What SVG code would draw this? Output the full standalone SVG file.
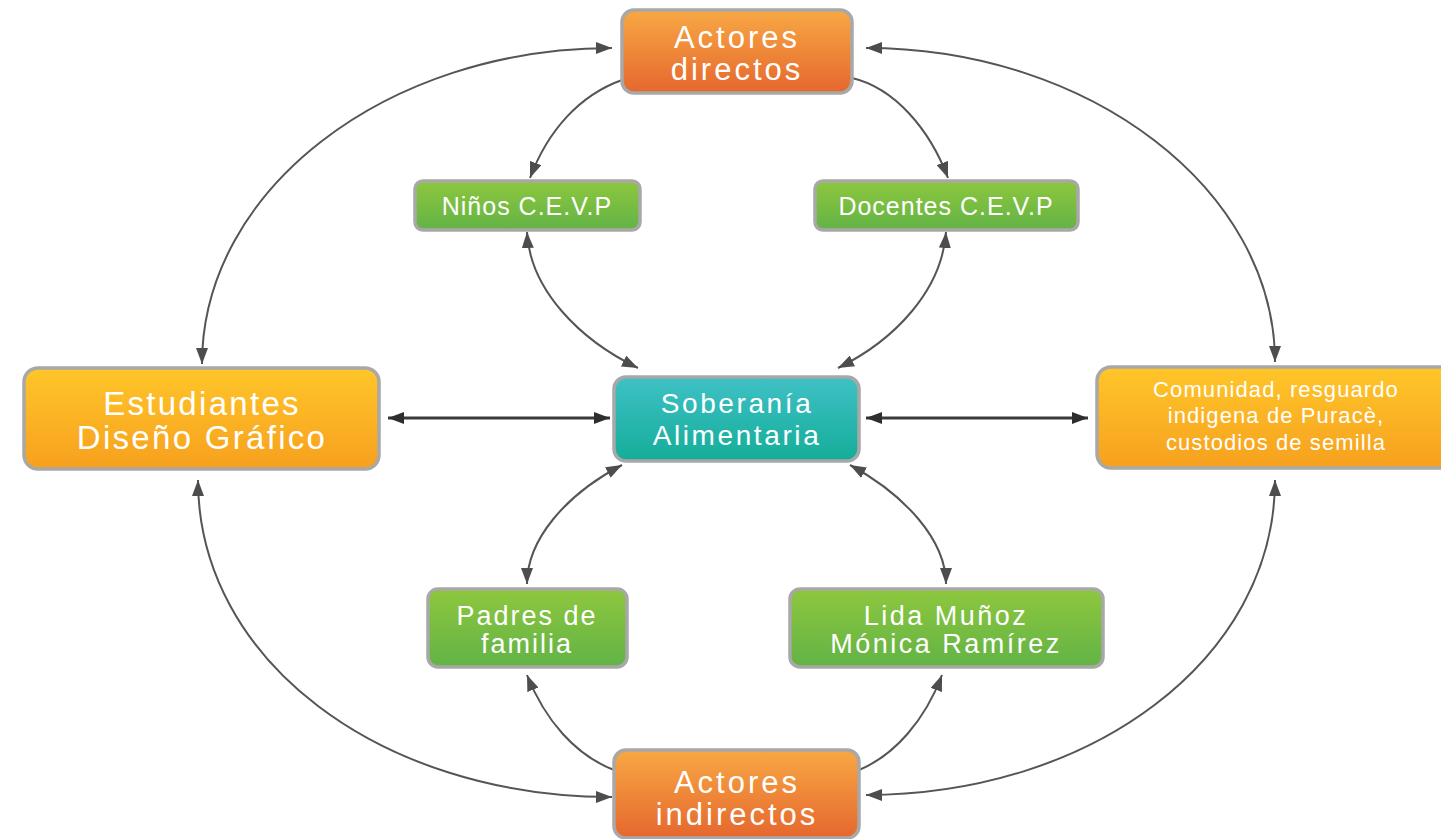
<svg xmlns="http://www.w3.org/2000/svg" width="1441" height="839" viewBox="0 0 1441 839">
<style>
.box{stroke:#a8a8a8;stroke-width:3.5}
.t{fill:#fff;font-family:"Liberation Sans",Arial,sans-serif;text-anchor:middle}
.c{fill:none;stroke:#555;stroke-width:2}
.h{fill:none;stroke:#3a3a3a;stroke-width:3}
</style>
<defs>
<linearGradient id="gOr" x1="0" y1="0" x2="0" y2="1"><stop offset="0" stop-color="#F8A844"/><stop offset="1" stop-color="#E5672E"/></linearGradient>
<linearGradient id="gGr" x1="0" y1="0" x2="0" y2="1"><stop offset="0" stop-color="#8EC73E"/><stop offset="1" stop-color="#62B346"/></linearGradient>
<linearGradient id="gYe" x1="0" y1="0" x2="0" y2="1"><stop offset="0" stop-color="#FFC62A"/><stop offset="1" stop-color="#F7A01E"/></linearGradient>
<linearGradient id="gTe" x1="0" y1="0" x2="0" y2="1"><stop offset="0" stop-color="#3FC1C6"/><stop offset="1" stop-color="#14AD99"/></linearGradient>
<marker id="a" viewBox="0 0 16 12" refX="16" refY="6" markerWidth="16" markerHeight="12" markerUnits="userSpaceOnUse" orient="auto-start-reverse"><path d="M0,0 L16,6 L0,12 Z" fill="#4d4d4d"/></marker>
<marker id="b" viewBox="0 0 16 12" refX="16" refY="6" markerWidth="16" markerHeight="12" markerUnits="userSpaceOnUse" orient="auto-start-reverse"><path d="M0,0 L16,6 L0,12 Z" fill="#2e2e2e"/></marker>
</defs>
<g id="connectors">
<path class="c" d="M202 364 C202 190 386 48 612 48" marker-start="url(#a)" marker-end="url(#a)"/>
<path class="c" d="M1275 362 C1275 190 1090 48 866 48" marker-start="url(#a)" marker-end="url(#a)"/>
<path class="c" d="M198 480 C198 660 380 797 612 797" marker-start="url(#a)" marker-end="url(#a)"/>
<path class="c" d="M1275 480 C1275 660 1090 795 866 795" marker-start="url(#a)" marker-end="url(#a)"/>
<path class="c" d="M622 80 C580 95 548 130 530 178" marker-end="url(#a)"/>
<path class="c" d="M852 78 C895 88 930 130 948 178" marker-end="url(#a)"/>
<path class="c" d="M527 232 C530 290 580 340 638 368" marker-start="url(#a)" marker-end="url(#a)"/>
<path class="c" d="M946 232 C942 290 895 340 838 368" marker-start="url(#a)" marker-end="url(#a)"/>
<path class="c" d="M622 465 C565 495 527 540 527 584" marker-start="url(#a)" marker-end="url(#a)"/>
<path class="c" d="M850 465 C905 495 946 540 946 584" marker-start="url(#a)" marker-end="url(#a)"/>
<path class="c" d="M614 770 C575 755 545 720 527 675" marker-end="url(#a)"/>
<path class="c" d="M859 770 C895 755 925 720 942 675" marker-end="url(#a)"/>
<path class="h" d="M388 418 L610 418" marker-start="url(#b)" marker-end="url(#b)"/>
<path class="h" d="M866 418 L1088 418" marker-start="url(#b)" marker-end="url(#b)"/>
</g>
<g id="actores-directos">
<rect class="box" x="622" y="10" width="230" height="83" rx="12" fill="url(#gOr)"/>
<text class="t" font-size="31" letter-spacing="3"><tspan x="737" y="48">Actores</tspan><tspan x="737" y="80">directos</tspan></text>
</g>
<g id="ninos">
<rect class="box" x="415" y="181" width="225" height="49" rx="8" fill="url(#gGr)"/>
<text class="t" x="527" y="215" font-size="25" letter-spacing="1">Niños C.E.V.P</text>
</g>
<g id="docentes">
<rect class="box" x="815" y="181" width="263" height="49" rx="8" fill="url(#gGr)"/>
<text class="t" x="946" y="215" font-size="25" letter-spacing="1">Docentes C.E.V.P</text>
</g>
<g id="estudiantes">
<rect class="box" x="24" y="368" width="355" height="101" rx="14" fill="url(#gYe)"/>
<text class="t" font-size="33" letter-spacing="2.3"><tspan x="202" y="415">Estudiantes</tspan><tspan x="202" y="449">Diseño Gráfico</tspan></text>
</g>
<g id="soberania">
<rect class="box" x="614" y="377" width="245" height="84" rx="12" fill="url(#gTe)"/>
<text class="t" font-size="28" letter-spacing="2.6"><tspan x="737" y="413">Soberanía</tspan><tspan x="737" y="445">Alimentaria</tspan></text>
</g>
<g id="comunidad">
<rect class="box" x="1097" y="367" width="358" height="101" rx="14" fill="url(#gYe)"/>
<text class="t" font-size="22" letter-spacing="1.1"><tspan x="1276" y="397">Comunidad, resguardo</tspan><tspan x="1276" y="423">indigena de Puracè,</tspan><tspan x="1276" y="450">custodios de semilla</tspan></text>
</g>
<g id="padres">
<rect class="box" x="428" y="589" width="199" height="78" rx="10" fill="url(#gGr)"/>
<text class="t" font-size="27" letter-spacing="2"><tspan x="527" y="625">Padres de</tspan><tspan x="527" y="653">familia</tspan></text>
</g>
<g id="lida">
<rect class="box" x="790" y="589" width="313" height="78" rx="10" fill="url(#gGr)"/>
<text class="t" font-size="27" letter-spacing="2.5"><tspan x="946" y="625">Lida Muñoz</tspan><tspan x="946" y="653">Mónica Ramírez</tspan></text>
</g>
<g id="actores-indirectos">
<rect class="box" x="614" y="750" width="245" height="88" rx="12" fill="url(#gOr)"/>
<text class="t" font-size="31" letter-spacing="3"><tspan x="737" y="793">Actores</tspan><tspan x="737" y="825">indirectos</tspan></text>
</g>
</svg>
